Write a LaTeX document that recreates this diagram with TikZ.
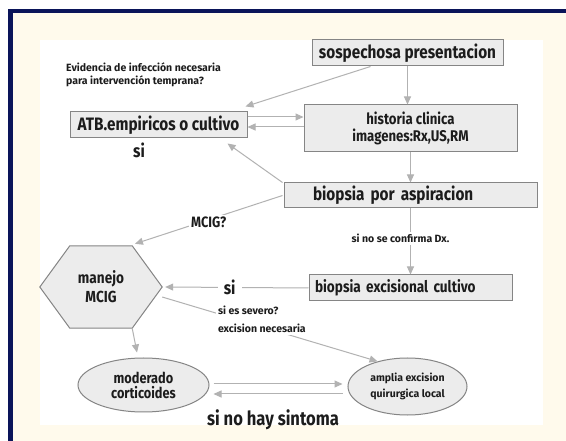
\documentclass[tikz,border=0pt]{standalone}
\usepackage{fontspec}
\setmainfont{Fira Sans}
\newfontfamily\narrowfont{Fira Sans}[FakeStretch=0.85]
\usetikzlibrary{arrows.meta,shapes.geometric,backgrounds}
\definecolor{framenavy}{HTML}{0A1459}
\definecolor{cream}{HTML}{FFFAEC}
\definecolor{boxfill}{HTML}{ECECEC}
\definecolor{boxline}{HTML}{858585}
\definecolor{linegray}{HTML}{B2B2B2}
\definecolor{ink}{HTML}{1C1C1C}

\begin{document}
\begin{tikzpicture}[x=1pt,y=-1pt,>={Triangle[length=8pt,width=7pt]},
    box/.style={draw=boxline,fill=boxfill,line width=1pt,inner sep=0pt,text=ink,
      font=\narrowfont\bfseries\fontsize{18}{17}\selectfont},
    oval/.style={ellipse,draw=boxline,fill=boxfill,line width=1pt,inner sep=0pt,text=ink,align=center},
    link/.style={draw=linegray,line width=1pt},
    tag/.style={text=ink,font=\narrowfont\bfseries\fontsize{18}{18}\selectfont,inner sep=2pt},
    note/.style={text=ink,font=\bfseries\fontsize{10.5}{13}\selectfont,inner sep=2pt,align=left}]
    \useasboundingbox (0,0) rectangle (566,441);
    \begin{scope}[on background layer]
      \fill[white] (0,0) rectangle (566,441);
      \fill[framenavy] (8,9) rectangle (566,441);
      \fill[cream] (13,13) rectangle (566,441);
      \fill[white] (40,40) rectangle (543,425);
    \end{scope}
    % boxes
    \node[box,minimum width=191pt,minimum height=26pt] (S) at (407.5,53) {sospechosa presentacion};
    \node[box,minimum width=213pt,minimum height=47pt,align=center,
      font=\narrowfont\bfseries\fontsize{15.5}{17}\selectfont] (H) at (410.5,128.5) {historia clinica\\imagenes:Rx,US,RM};
    \node[box,minimum width=253pt,minimum height=25pt,text width=195pt,align=left] (B1) at (410.5,195.5) {biopsia por aspiracion};
    \node[box,minimum width=177pt,minimum height=26pt] (A) at (158.5,125) {ATB.empiricos o cultivo};
    \node[box,minimum width=203pt,minimum height=26pt,text width=191pt,align=left,
      font=\narrowfont\bfseries\fontsize{16}{17}\selectfont] (B2) at (410.5,288) {biopsia excisional cultivo};
    \node[inner sep=0pt,minimum width=122pt,minimum height=82pt,align=center,text=ink,
      font=\narrowfont\bfseries\fontsize{16}{19}\selectfont] (M) at (101,287) {manejo\\MCIG};
    \begin{scope}[on background layer]
      \filldraw[fill=boxfill,draw=boxline,line width=1pt] (M.west) -- ([xshift=30pt]M.north west)
        -- ([xshift=-30pt]M.north east) -- (M.east) -- ([xshift=-30pt]M.south east)
        -- ([xshift=30pt]M.south west) -- cycle;
    \end{scope}
    \node[oval,minimum width=131pt,minimum height=54pt,font=\narrowfont\bfseries\fontsize{15}{15}\selectfont] (C) at (143.5,385) {moderado\\corticoides};
    \node[oval,minimum width=119pt,minimum height=57pt,font=\bfseries\fontsize{10.5}{16}\selectfont] (E) at (407.5,386.5) {amplia excision\\quirurgica local};
    % free labels
    \node[note,anchor=west] (ev) at (64,75) {Evidencia de infección necesaria\\para intervención temprana?};
    \node[tag] (si1) at (139,150) {si};
    \node[tag,font=\narrowfont\bfseries\fontsize{19.5}{19}\selectfont] (nosint) at (273,420) {si no hay sintoma};
    % connectors
    \draw[link,->] (S.south) -- (S.south |- H.north);
    \draw[link,->] (H.south) -- (B1.north);
    \draw[link,->] (B1.south) -- (B2.north) node[note,fill=white,pos=0.45,xshift=-10pt] {si no se confirma Dx.};
    \draw[link,->] ([xshift=-37pt]S.south) -- ([shift={(-2pt,5pt)}]A.north east);
    \draw[link,->] ([yshift=8pt]A.east) -- ([yshift=11.5pt]H.west);
    \draw[link,->] ([yshift=1.5pt]H.west) -- ([yshift=-2pt]A.east);
    \draw[link,->] ([xshift=-1pt]B1.north west) -- ([shift={(-20pt,-5pt)}]A.south east);
    \draw[link,->] ([xshift=-1pt]B1.west) -- ([shift={(34pt,2pt)}]M.north)
      node[tag,fill=white,pos=0.5,yshift=-3pt,font=\narrowfont\bfseries\fontsize{15}{15}\selectfont] {MCIG?};
    \draw[link,->] (B2.west) -- ([xshift=3pt]M.east) node[tag,fill=white,pos=0.55,inner xsep=6pt] {si};
    \draw[link,->] ([yshift=-10pt]M.east) -- (E.140)
      node[note,fill=white,pos=0.5,xshift=-8pt,yshift=10pt,font=\bfseries\fontsize{10.5}{18}\selectfont] {si es severo?\\excision necesaria};
    \draw[link,->] ([xshift=-30pt]M.south east) -- ([shift={(-6.5pt,5pt)}]C.north);
    \draw[link,->] ([shift={(4pt,1pt)}]C.east) -- ([shift={(-5pt,2.5pt)}]E.west);
    \draw[link,->] ([shift={(-5pt,-7.5pt)}]E.west) -- ([shift={(4pt,-9pt)}]C.east);
  \end{tikzpicture}
\end{document}
